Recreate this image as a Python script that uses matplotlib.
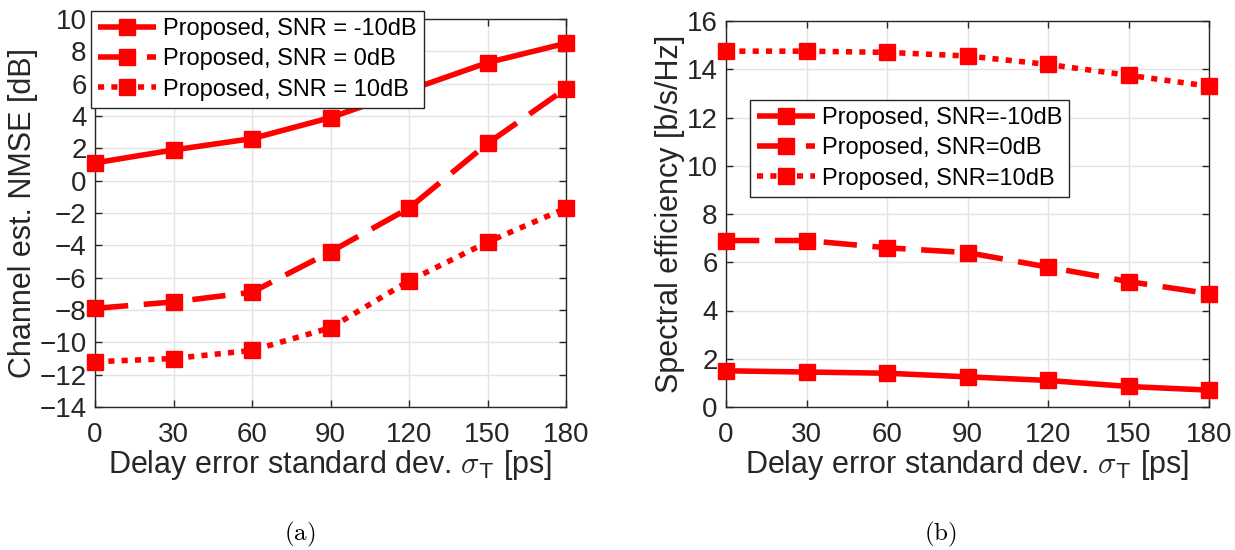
import numpy as np
import matplotlib
matplotlib.use("Agg")
import matplotlib.pyplot as plt

plt.rcParams["font.family"] = ["Liberation Sans", "DejaVu Sans"]
plt.rcParams["mathtext.fontset"] = "cm"

delay_std = [0, 30, 60, 90, 120, 150, 180]
snr_labels_a = ["Proposed, SNR = -10dB", "Proposed, SNR = 0dB", "Proposed, SNR = 10dB"]
snr_labels_b = ["Proposed, SNR=-10dB", "Proposed, SNR=0dB", "Proposed, SNR=10dB"]

nmse_m10 = [1.1, 1.9, 2.6, 3.9, 5.6, 7.3, 8.5]
nmse_0 = [-7.9, -7.5, -6.9, -4.4, -1.7, 2.3, 5.7]
nmse_10 = [-11.2, -11.0, -10.5, -9.1, -6.2, -3.8, -1.7]

se_m10 = [1.5, 1.45, 1.4, 1.25, 1.1, 0.85, 0.7]
se_0 = [6.9, 6.9, 6.6, 6.4, 5.8, 5.2, 4.7]
se_10 = [14.75, 14.75, 14.7, 14.55, 14.2, 13.75, 13.3]

RED = "#ff0000"
DARK = "#262626"
styles = [(0, ()), (0, (6.0, 2.8)), (0, (1.1, 1.3))]


def draw_panel(ax, series, labels, yticks, ylabel):
    for vals, ls, lab in zip(series, styles, labels):
        ax.plot(delay_std, vals, color=RED, linestyle=ls, linewidth=4.0,
                marker="s", markersize=11, dash_capstyle="butt", label=lab,
                clip_on=False, zorder=3)
    ax.set_xlim(0, 180)
    ax.set_xticks(delay_std)
    ax.set_ylim(yticks[0], yticks[-1])
    ax.set_yticks(yticks)
    ax.grid(True, color="#e3e3e3", linewidth=1.0)
    ax.set_axisbelow(True)
    ax.tick_params(direction="in", length=5, width=1, colors=DARK,
                   labelsize=20, top=True, right=True)
    ax.tick_params(axis="x", pad=11)
    ax.tick_params(axis="y", pad=6)
    for sp in ax.spines.values():
        sp.set_color(DARK)
        sp.set_linewidth(1.0)
    ax.set_xlabel(r"Delay error standard dev. $\sigma_{\mathsf{T}}$ [ps]",
                  fontsize=22, color=DARK, labelpad=0)
    ax.set_ylabel(ylabel, fontsize=22, color=DARK, labelpad=1)


fig = plt.figure(figsize=(12.35, 5.5), dpi=100)
ax_a = fig.add_axes([95 / 1235, 143 / 550, 471 / 1235, 388 / 550])
ax_b = fig.add_axes([726 / 1235, 143 / 550, 483 / 1235, 386 / 550])

draw_panel(ax_a, [nmse_m10, nmse_0, nmse_10], snr_labels_a,
           np.arange(-14, 11, 2), "Channel est. NMSE [dB]")
draw_panel(ax_b, [se_m10, se_0, se_10], snr_labels_b,
           np.arange(0, 17, 2), "Spectral efficiency [b/s/Hz]")

leg_kw = dict(fontsize=17, handlelength=2.45, handletextpad=0.3,
              borderpad=0.3, labelspacing=0.35, fancybox=False,
              framealpha=1, edgecolor=DARK, borderaxespad=0)
leg_a = ax_a.legend(loc="upper left", bbox_to_anchor=(91 / 1235, 1 - 11 / 550),
                    bbox_transform=fig.transFigure, **leg_kw)
leg_b = ax_b.legend(loc="upper left", bbox_to_anchor=(750 / 1235, 1 - 100 / 550),
                    bbox_transform=fig.transFigure, **leg_kw)
for leg in (leg_a, leg_b):
    leg.get_frame().set_linewidth(1.0)
    leg.set_zorder(5)

fig.text(300 / 1235, 1 - 534 / 550, r"$\mathrm{(a)}$", fontsize=18,
         ha="center", va="center")
fig.text(940 / 1235, 1 - 534 / 550, r"$\mathrm{(b)}$", fontsize=18,
         ha="center", va="center")

fig.savefig("out.png", dpi=100)
